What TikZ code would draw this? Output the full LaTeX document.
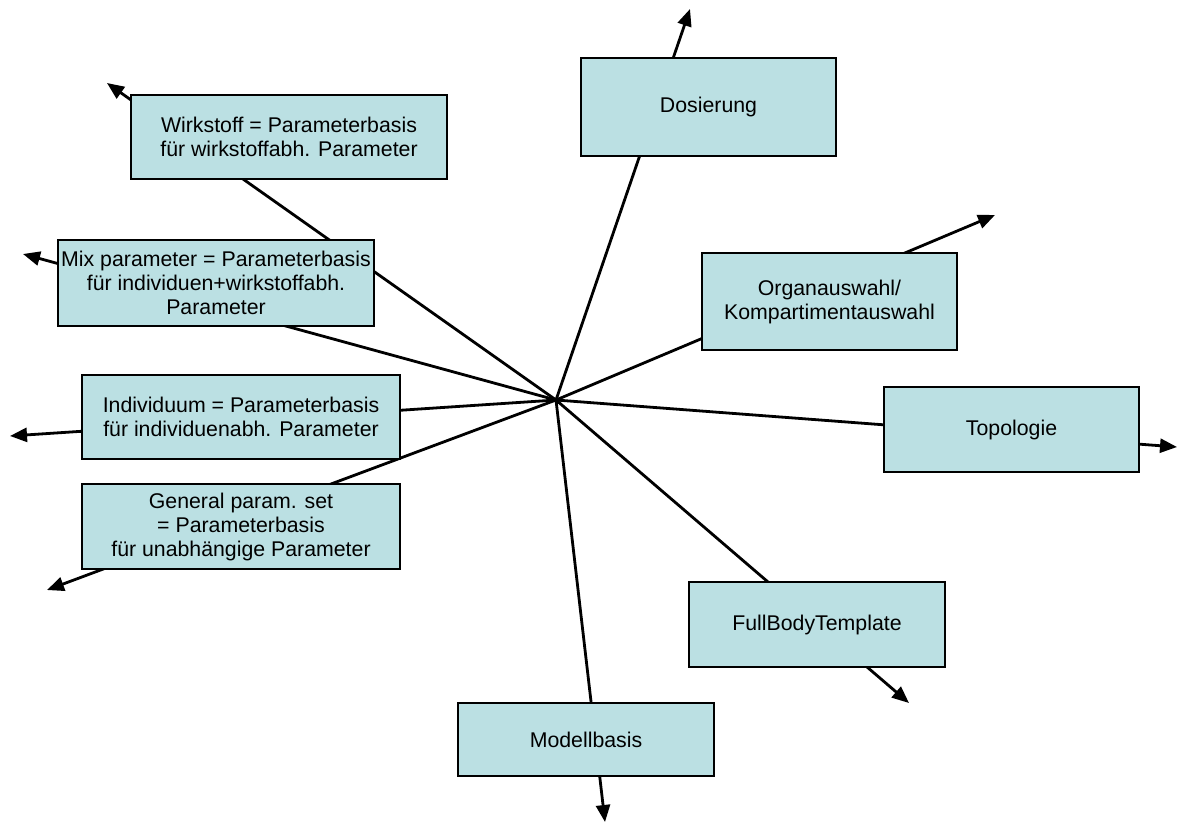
\documentclass[tikz,border=0pt]{standalone}
\usepackage{fontspec}
\setmainfont{Liberation Sans}
\usetikzlibrary{arrows.meta}
\definecolor{boxfill}{HTML}{BBE0E3}
\tikzset{
  spoke/.style={line width=2.8pt, -{Triangle[length=17pt,width=14pt]}},
  pbox/.style={draw=black, line width=1.2pt, fill=boxfill, rectangle, inner sep=0pt,
    align=center, font=\fontsize{21.3}{24}\selectfont, text=black},
}
\begin{document}
\begin{tikzpicture}[x=1pt,y=-1pt]
\useasboundingbox (0,0) rectangle (1185,823);
\coordinate (c) at (556,400);
\coordinate (tW) at (107,83);
\coordinate (tM) at (23,254);
\coordinate (tI) at (10,436);
\coordinate (tG) at (47,590);
\coordinate (tD) at (690,9);
\coordinate (tO) at (995,215);
\coordinate (tT) at (1177,447);
\coordinate (tF) at (909,703);
\coordinate (tB) at (605,822);
\foreach \t in {tW,tM,tI,tG,tD,tO,tT,tF,tB} \draw[spoke] (c) -- (\t);
\node[pbox, minimum width=316pt, minimum height=84pt] (wirk) at (289,137) {Wirkstoff = Parameterbasis\\ für wirkstoffabh. Parameter};
\node[pbox, minimum width=316pt, minimum height=86pt] (mix) at (216,283) {Mix parameter = Parameterbasis\\für individuen+wirkstoffabh.\\Parameter};
\node[pbox, minimum width=318pt, minimum height=84pt] (indiv) at (241,417) {Individuum = Parameterbasis\\für individuenabh. Parameter};
\node[pbox, minimum width=318pt, minimum height=85pt] (gen) at (241,526.5) {General param. set\\= Parameterbasis\\ für unabhängige Parameter};
\node[pbox, minimum width=255pt, minimum height=98pt] (dos) at (708.5,107) {Dosierung};
\node[pbox, minimum width=255pt, minimum height=97pt] (org) at (829.5,301.5) {Organauswahl/\\Kompartimentauswahl};
\node[pbox, minimum width=255pt, minimum height=85pt] (topo) at (1011.5,429.5) {Topologie};
\node[pbox, minimum width=256pt, minimum height=85pt] (full) at (817,624.5) {FullBodyTemplate};
\node[pbox, minimum width=256pt, minimum height=73pt] (mod) at (586,739.5) {Modellbasis};
\end{tikzpicture}
\end{document}
